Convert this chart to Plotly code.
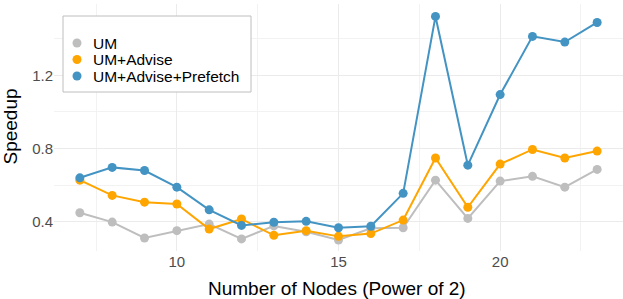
import plotly.graph_objects as go

nodes = list(range(7, 24))
um = [0.449, 0.398, 0.311, 0.351, 0.387, 0.306, 0.377, 0.345, 0.300, 0.364, 0.367,
      0.627, 0.418, 0.622, 0.648, 0.589, 0.686]
um_advise = [0.627, 0.544, 0.507, 0.497, 0.360, 0.415, 0.326, 0.351, 0.320, 0.335, 0.409,
             0.748, 0.479, 0.715, 0.795, 0.748, 0.786]
um_advise_prefetch = [0.640, 0.697, 0.680, 0.589, 0.465, 0.380, 0.397, 0.402, 0.367, 0.375, 0.555,
                      1.522, 0.709, 1.095, 1.413, 1.382, 1.489]

series_names = ["UM", "UM+Advise", "UM+Advise+Prefetch"]
series_values = [um, um_advise, um_advise_prefetch]
series_colors = ["#BEBEBE", "#FFA500", "#4393C3"]

x_title = "Number of Nodes (Power of 2)"
y_title = "Speedup"

FONT = "Liberation Sans, Arial, Helvetica, sans-serif"

# plot area in pixels
L, R, T, B = 54, 623, 4, 251
W = 623
H = 299


def px_x(p):
    return (p - L) / (R - L)


def px_y(p):
    return (B - p) / (B - T)


fig = go.Figure()
for name, vals, col in zip(series_names, series_values, series_colors):
    fig.add_trace(go.Scatter(
        x=nodes, y=vals, name=name, mode="lines+markers",
        line=dict(color=col, width=2),
        marker=dict(color=col, size=9),
        showlegend=False,
    ))

shapes = [dict(type="rect", xref="paper", yref="paper",
               x0=px_x(63), x1=px_x(251), y0=px_y(92), y1=px_y(16),
               line=dict(color="#BEBEBE", width=1), fillcolor="white", layer="above")]
annotations = []
legend_y = [43, 59.5, 76]
for name, col, ly in zip(series_names, series_colors, legend_y):
    shapes.append(dict(type="circle", xref="paper", yref="paper",
                       xsizemode="pixel", ysizemode="pixel",
                       xanchor=px_x(77), yanchor=px_y(ly),
                       x0=-4.5, x1=4.5, y0=-4.5, y1=4.5,
                       fillcolor=col, line=dict(width=0), layer="above"))
    annotations.append(dict(text=name, xref="paper", yref="paper",
                            x=px_x(91), y=px_y(ly), xanchor="left", yanchor="middle",
                            showarrow=False, font=dict(size=15.5, color="#000000", family=FONT)))

# axis titles
annotations.append(dict(text=x_title, xref="paper", yref="paper",
                        x=px_x(337), y=px_y(288), xanchor="center", yanchor="middle",
                        showarrow=False, font=dict(size=19, color="#000000", family=FONT)))
annotations.append(dict(text=y_title, xref="paper", yref="paper",
                        x=px_x(9.5), y=px_y(127), xanchor="center", yanchor="middle",
                        textangle=-90,
                        showarrow=False, font=dict(size=19, color="#000000", family=FONT)))

fig.update_layout(
    width=W, height=H,
    margin=dict(l=L, r=W - R, t=T, b=H - B),
    paper_bgcolor="white", plot_bgcolor="white",
    font=dict(family=FONT, color="#000000"),
    showlegend=False,
    shapes=shapes,
    annotations=annotations,
    xaxis=dict(
        range=[6.2, 23.8], tickvals=[10, 15, 20], ticktext=["10", "15", "20"],
        showgrid=True, gridcolor="#EBEBEB", gridwidth=1.1,
        zeroline=False, showline=False, ticks="", automargin=False,
        tickfont=dict(size=15, color="#4D4D4D"),
        minor=dict(tickvals=[7.5, 12.5, 17.5, 22.5], showgrid=True, gridcolor="#F2F2F2", gridwidth=0.8),
    ),
    yaxis=dict(
        range=[0.24, 1.59], tickvals=[0.4, 0.8, 1.2], ticktext=["0.4", "0.8", "1.2"],
        showgrid=True, gridcolor="#EBEBEB", gridwidth=1.1,
        zeroline=False, showline=False, ticks="", automargin=False,
        tickfont=dict(size=15, color="#4D4D4D"),
        minor=dict(tickvals=[0.6, 1.0, 1.4], showgrid=True, gridcolor="#F2F2F2", gridwidth=0.8),
    ),
)

fig.write_html("out.html",
               config={"displayModeBar": False},
               post_script="document.body.style.margin='0';document.body.style.padding='0';")
